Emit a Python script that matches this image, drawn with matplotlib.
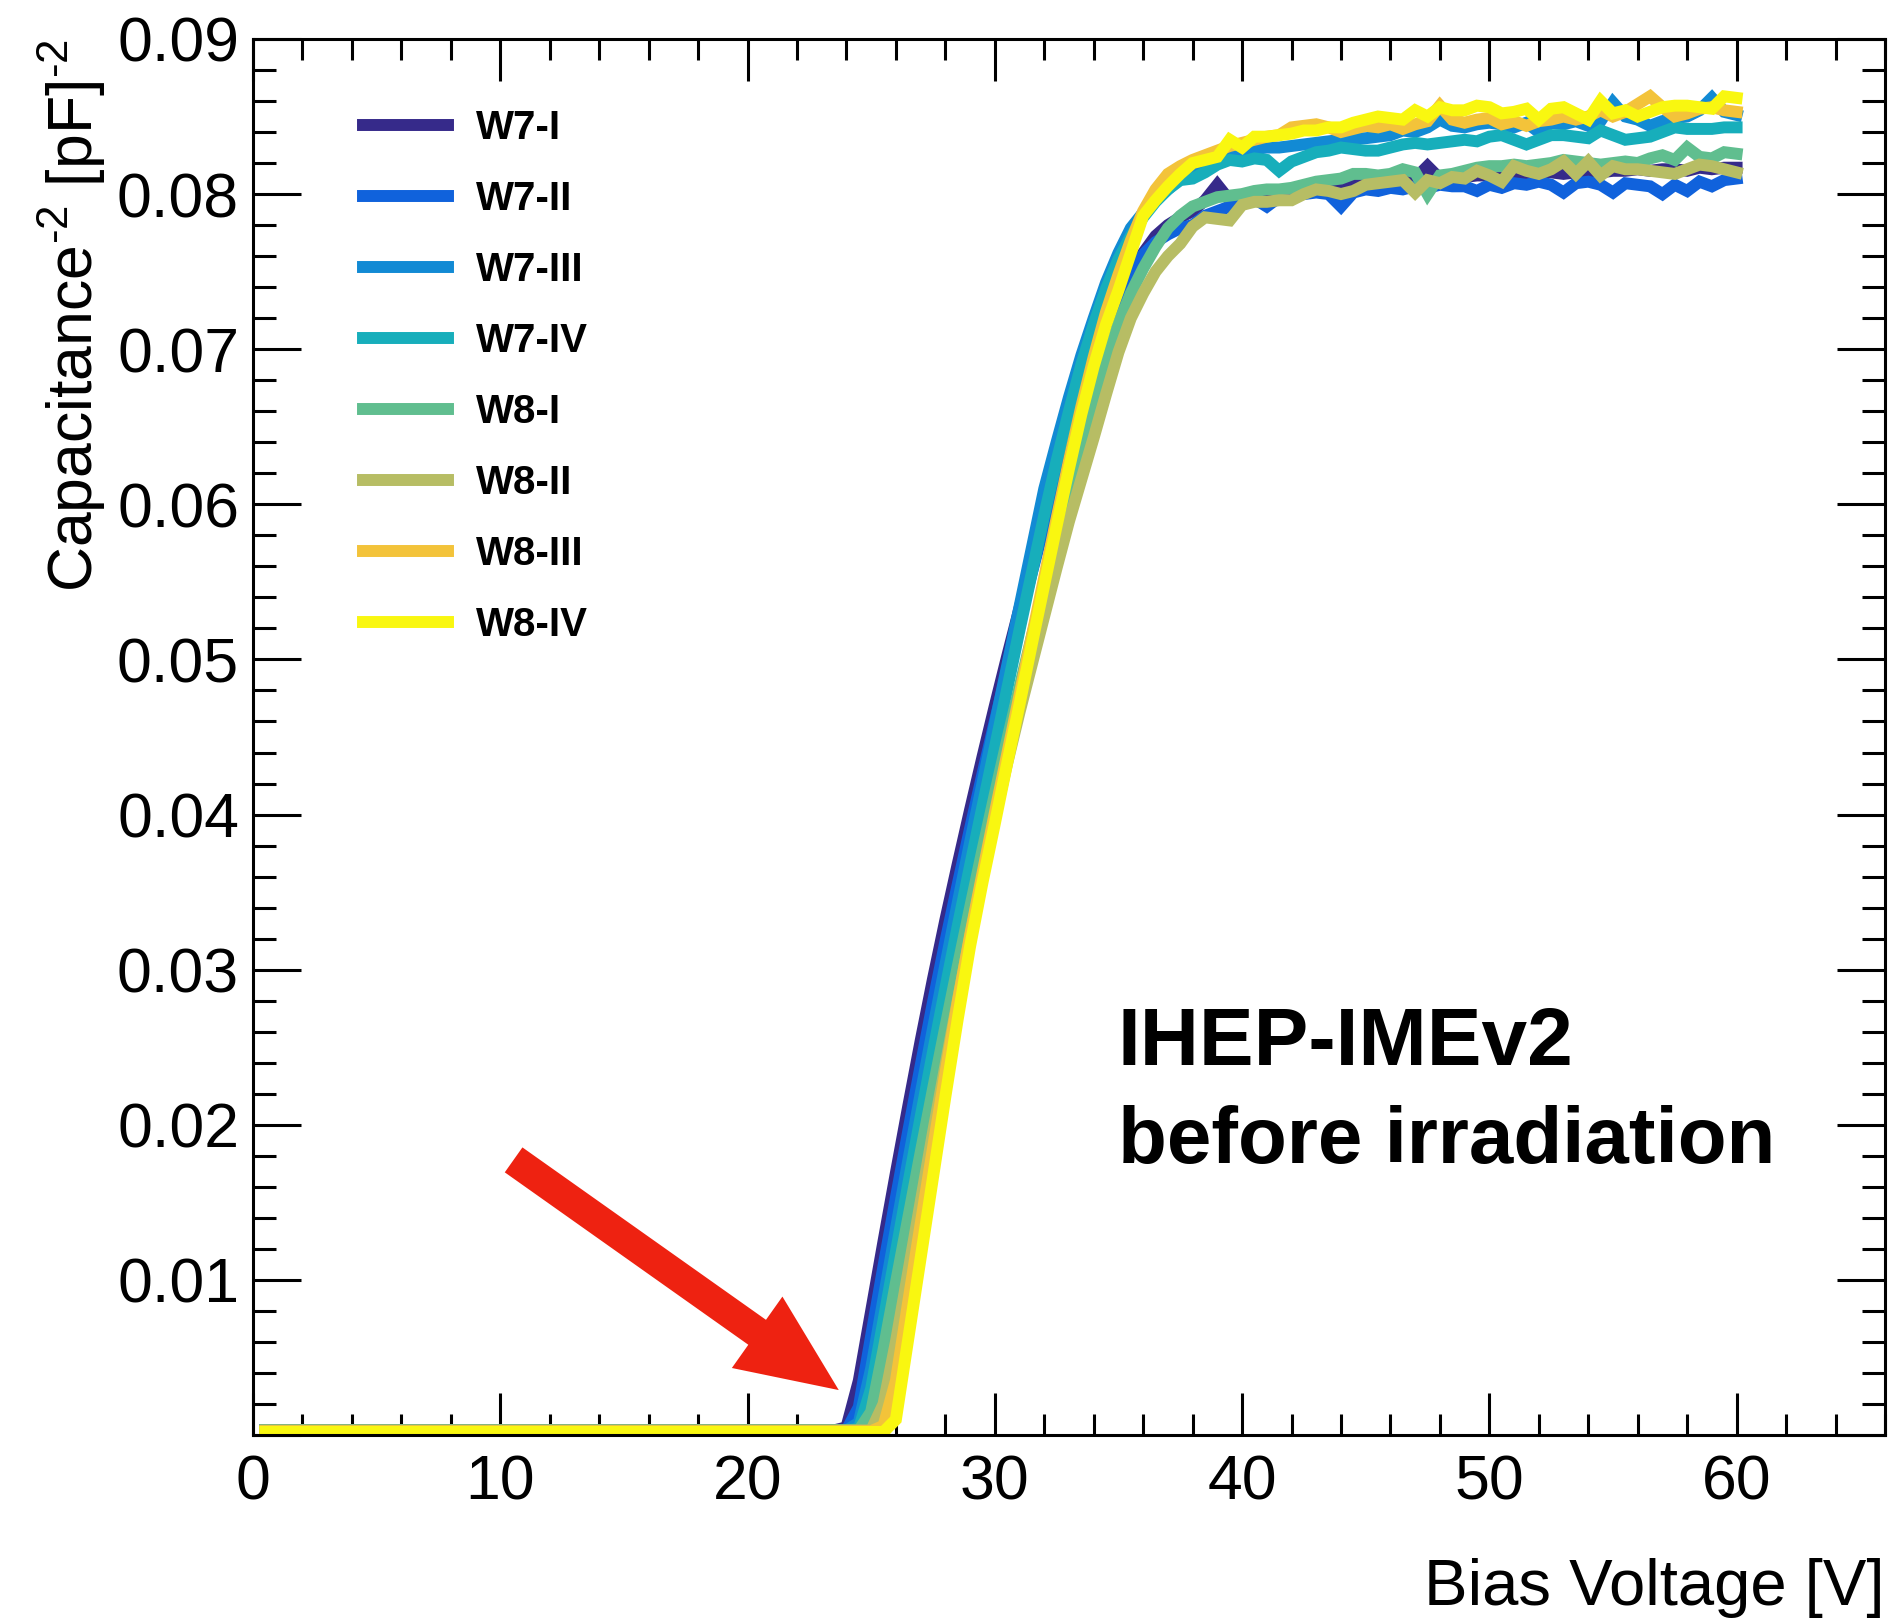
import numpy as np
import matplotlib.pyplot as plt
from matplotlib.ticker import MultipleLocator, FuncFormatter

plt.rcParams['font.family'] = 'Liberation Sans'
plt.rcParams['mathtext.fontset'] = 'custom'
plt.rcParams['mathtext.rm'] = 'Liberation Sans'
plt.rcParams['mathtext.it'] = 'Liberation Sans:italic'
plt.rcParams['mathtext.bf'] = 'Liberation Sans:bold'

# bias scan, 0.5 V steps
bias_voltage = np.arange(0.5, 60.01, 0.5)

labels = ['W7-I', 'W7-II', 'W7-III', 'W7-IV', 'W8-I', 'W8-II', 'W8-III', 'W8-IV']
colors = ['#362a8a', '#1062dc', '#128ad4', '#17aebb',
          '#60be8f', '#b7bd64', '#f3c33a', '#f9f710']

# 1/C^2 in units of 1e-3 pF^-2, one row per 5 V
w7_i = [
    0.3, 0.3, 0.3, 0.3, 0.3, 0.3, 0.3, 0.3, 0.3, 0.3,
    0.3, 0.3, 0.3, 0.3, 0.3, 0.3, 0.3, 0.3, 0.3, 0.3,
    0.3, 0.3, 0.3, 0.3, 0.3, 0.3, 0.3, 0.3, 0.3, 0.3,
    0.3, 0.3, 0.3, 0.3, 0.3, 0.3, 0.3, 0.3, 0.3, 0.3,
    0.3, 0.3, 0.3, 0.3, 0.3, 0.3, 0.3, 0.5, 3.5, 8.0,
    12.5, 16.9, 21.2, 25.4, 29.4, 33.2, 36.8, 40.3, 43.7, 47.0,
    50.2, 53.3, 56.3, 59.2, 62.0, 64.6, 67.0, 69.3, 71.4, 73.2,
    74.8, 76.2, 77.3, 78.0, 78.5, 78.9, 79.6, 80.6, 79.6, 79.9,
    80.0, 80.1, 80.2, 80.3, 80.4, 80.5, 80.5, 80.6, 80.7, 80.7,
    80.8, 80.8, 80.9, 81.0, 81.8, 81.0, 81.1, 81.1, 81.2, 81.2,
    81.2, 81.3, 81.3, 81.4, 81.4, 81.3, 81.4, 81.5, 81.4, 81.5,
    81.5, 81.6, 81.5, 81.6, 81.6, 81.5, 81.7, 81.6, 81.7, 81.7,
]
w7_ii = [
    0.3, 0.3, 0.3, 0.3, 0.3, 0.3, 0.3, 0.3, 0.3, 0.3,
    0.3, 0.3, 0.3, 0.3, 0.3, 0.3, 0.3, 0.3, 0.3, 0.3,
    0.3, 0.3, 0.3, 0.3, 0.3, 0.3, 0.3, 0.3, 0.3, 0.3,
    0.3, 0.3, 0.3, 0.3, 0.3, 0.3, 0.3, 0.3, 0.3, 0.3,
    0.3, 0.3, 0.3, 0.3, 0.3, 0.3, 0.3, 0.3, 1.8, 6.4,
    10.9, 15.3, 19.6, 23.8, 27.9, 31.8, 35.5, 39.1, 42.6, 46.0,
    49.3, 52.5, 55.6, 58.6, 61.5, 64.2, 66.8, 69.2, 71.4, 73.3,
    74.9, 76.1, 76.9, 77.4, 77.8, 78.0, 78.6, 78.9, 79.2, 79.4,
    79.7, 79.2, 79.8, 79.9, 80.0, 80.1, 80.0, 79.2, 80.1, 80.3,
    80.2, 80.4, 80.3, 80.5, 80.4, 80.6, 80.5, 80.5, 80.2, 80.6,
    80.4, 80.7, 80.6, 80.8, 80.6, 80.1, 80.7, 80.8, 80.6, 80.1,
    80.7, 80.6, 80.5, 80.0, 80.6, 80.2, 80.8, 80.5, 80.9, 81.0,
]
w7_iii = [
    0.3, 0.3, 0.3, 0.3, 0.3, 0.3, 0.3, 0.3, 0.3, 0.3,
    0.3, 0.3, 0.3, 0.3, 0.3, 0.3, 0.3, 0.3, 0.3, 0.3,
    0.3, 0.3, 0.3, 0.3, 0.3, 0.3, 0.3, 0.3, 0.3, 0.3,
    0.3, 0.3, 0.3, 0.3, 0.3, 0.3, 0.3, 0.3, 0.3, 0.3,
    0.3, 0.3, 0.3, 0.3, 0.3, 0.3, 0.3, 0.3, 0.8, 4.3,
    8.8, 13.3, 17.7, 22.0, 26.2, 30.3, 34.3, 38.2, 42.0, 45.8,
    49.6, 53.4, 57.2, 61.0, 64.0, 66.9, 69.6, 72.0, 74.3, 76.2,
    77.8, 78.8, 79.6, 80.3, 81.0, 81.7, 82.2, 82.4, 82.7, 82.8,
    82.9, 83.0, 83.0, 83.1, 83.2, 83.3, 83.4, 83.5, 83.6, 83.6,
    83.7, 83.8, 84.1, 84.0, 84.3, 84.8, 84.4, 84.3, 84.5, 84.6,
    84.5, 84.3, 84.6, 84.0, 84.6, 84.5, 84.7, 84.4, 84.7, 85.9,
    85.0, 84.8, 84.4, 84.7, 84.9, 85.0, 85.4, 86.2, 85.3, 85.1,
]
w7_iv = [
    0.3, 0.3, 0.3, 0.3, 0.3, 0.3, 0.3, 0.3, 0.3, 0.3,
    0.3, 0.3, 0.3, 0.3, 0.3, 0.3, 0.3, 0.3, 0.3, 0.3,
    0.3, 0.3, 0.3, 0.3, 0.3, 0.3, 0.3, 0.3, 0.3, 0.3,
    0.3, 0.3, 0.3, 0.3, 0.3, 0.3, 0.3, 0.3, 0.3, 0.3,
    0.3, 0.3, 0.3, 0.3, 0.3, 0.3, 0.3, 0.3, 0.4, 3.0,
    7.4, 11.8, 16.2, 20.5, 24.7, 28.8, 32.8, 36.7, 40.5, 44.3,
    48.1, 51.9, 55.6, 59.3, 62.8, 66.0, 69.0, 71.6, 73.9, 75.8,
    77.3, 78.5, 79.5, 80.3, 80.9, 81.0, 81.4, 81.9, 82.2, 82.1,
    82.3, 82.2, 81.5, 82.1, 82.4, 82.7, 82.8, 83.0, 82.9, 82.8,
    82.8, 83.0, 83.2, 83.3, 83.2, 83.3, 83.4, 83.5, 83.4, 83.7,
    83.8, 83.5, 83.2, 83.5, 83.8, 83.8, 83.7, 83.6, 84.1, 83.8,
    83.5, 83.6, 83.7, 84.0, 84.3, 84.2, 84.2, 84.2, 84.3, 84.3,
]
w8_i = [
    0.3, 0.3, 0.3, 0.3, 0.3, 0.3, 0.3, 0.3, 0.3, 0.3,
    0.3, 0.3, 0.3, 0.3, 0.3, 0.3, 0.3, 0.3, 0.3, 0.3,
    0.3, 0.3, 0.3, 0.3, 0.3, 0.3, 0.3, 0.3, 0.3, 0.3,
    0.3, 0.3, 0.3, 0.3, 0.3, 0.3, 0.3, 0.3, 0.3, 0.3,
    0.3, 0.3, 0.3, 0.3, 0.3, 0.3, 0.3, 0.3, 0.3, 1.5,
    5.5, 9.8, 14.0, 18.2, 22.3, 26.3, 30.2, 34.0, 37.7, 41.3,
    44.8, 48.2, 51.5, 54.7, 57.8, 60.8, 63.7, 66.5, 69.2, 71.6,
    73.6, 75.2, 76.6, 77.8, 78.6, 79.2, 79.5, 79.8, 79.9, 80.0,
    80.2, 80.3, 80.3, 80.4, 80.6, 80.8, 80.9, 81.0, 81.3, 81.3,
    81.2, 81.3, 81.6, 81.4, 80.0, 81.2, 81.3, 81.5, 81.7, 81.8,
    81.8, 81.9, 81.8, 81.9, 82.0, 82.2, 82.1, 82.0, 81.9, 82.0,
    82.1, 82.0, 82.3, 82.5, 82.2, 83.0, 82.4, 82.3, 82.7, 82.6,
]
w8_ii = [
    0.3, 0.3, 0.3, 0.3, 0.3, 0.3, 0.3, 0.3, 0.3, 0.3,
    0.3, 0.3, 0.3, 0.3, 0.3, 0.3, 0.3, 0.3, 0.3, 0.3,
    0.3, 0.3, 0.3, 0.3, 0.3, 0.3, 0.3, 0.3, 0.3, 0.3,
    0.3, 0.3, 0.3, 0.3, 0.3, 0.3, 0.3, 0.3, 0.3, 0.3,
    0.3, 0.3, 0.3, 0.3, 0.3, 0.3, 0.3, 0.3, 0.3, 0.3,
    2.0, 6.0, 10.5, 15.0, 19.5, 23.8, 28.0, 32.1, 36.0, 39.8,
    43.3, 46.6, 49.7, 52.8, 55.9, 58.9, 61.6, 64.3, 67.1, 69.8,
    72.0, 73.6, 75.0, 76.0, 76.8, 77.9, 78.5, 78.4, 78.3, 79.3,
    79.5, 79.5, 79.6, 79.6, 80.0, 80.3, 80.2, 80.0, 80.2, 80.6,
    80.7, 80.8, 80.9, 80.1, 80.9, 80.7, 81.1, 81.0, 81.5, 81.2,
    80.8, 81.8, 81.5, 81.3, 81.6, 82.1, 81.3, 82.1, 81.2, 81.8,
    81.6, 81.6, 81.5, 81.4, 81.3, 81.6, 81.9, 81.8, 81.6, 81.4,
]
w8_iii = [
    0.25, 0.25, 0.25, 0.25, 0.25, 0.25, 0.25, 0.25, 0.25, 0.25,
    0.25, 0.25, 0.25, 0.25, 0.25, 0.25, 0.25, 0.25, 0.25, 0.25,
    0.25, 0.25, 0.25, 0.25, 0.25, 0.25, 0.25, 0.25, 0.25, 0.25,
    0.25, 0.25, 0.25, 0.25, 0.25, 0.25, 0.25, 0.25, 0.25, 0.25,
    0.25, 0.25, 0.25, 0.25, 0.25, 0.25, 0.25, 0.25, 0.25, 0.25,
    0.6, 3.5, 8.6, 13.6, 18.5, 23.3, 27.9, 32.2, 36.2, 40.1,
    43.9, 47.7, 51.5, 55.3, 59.1, 62.8, 66.3, 69.5, 72.4, 74.8,
    77.0, 78.9, 80.3, 81.3, 81.8, 82.2, 82.5, 82.8, 83.1, 83.3,
    83.5, 83.7, 83.8, 84.3, 84.4, 84.5, 84.3, 84.0, 84.2, 84.4,
    84.3, 84.5, 84.2, 84.5, 84.7, 85.7, 84.8, 84.6, 84.8, 84.9,
    84.5, 84.7, 84.4, 84.7, 84.8, 85.0, 84.8, 85.0, 85.4, 85.0,
    85.3, 85.8, 86.3, 85.6, 85.0, 85.2, 85.5, 85.6, 85.4, 85.3,
]
w8_iv = [
    0.2, 0.2, 0.2, 0.2, 0.2, 0.2, 0.2, 0.2, 0.2, 0.2,
    0.2, 0.2, 0.2, 0.2, 0.2, 0.2, 0.2, 0.2, 0.2, 0.2,
    0.2, 0.2, 0.2, 0.2, 0.2, 0.2, 0.2, 0.2, 0.2, 0.2,
    0.2, 0.2, 0.2, 0.2, 0.2, 0.2, 0.2, 0.2, 0.2, 0.2,
    0.2, 0.2, 0.2, 0.2, 0.2, 0.2, 0.2, 0.2, 0.2, 0.2,
    0.2, 1.0, 6.2, 11.4, 16.6, 21.8, 26.8, 31.5, 35.6, 39.4,
    43.3, 47.1, 51.0, 54.8, 58.6, 62.3, 65.8, 68.9, 71.6, 73.8,
    76.2, 78.6, 79.6, 80.5, 81.3, 82.0, 82.2, 82.4, 83.5, 83.0,
    83.7, 83.7, 83.8, 83.9, 84.1, 84.1, 84.3, 84.3, 84.6, 84.8,
    85.0, 84.9, 84.8, 85.4, 85.0, 85.6, 85.4, 85.4, 85.7, 85.6,
    85.2, 85.3, 85.5, 84.8, 85.5, 85.6, 85.2, 84.8, 86.0, 85.2,
    85.4, 85.0, 85.3, 85.6, 85.7, 85.7, 85.6, 85.5, 86.3, 86.2,
]
series = [w7_i, w7_ii, w7_iii, w7_iv, w8_i, w8_ii, w8_iii, w8_iv]

fig = plt.figure(figsize=(18.95, 16.23), dpi=100)
ax = fig.add_axes([0.1335, 0.1158, 0.8612, 0.8602])

for vals, lab, col in zip(series, labels, colors):
    ax.plot(bias_voltage, np.array(vals) * 1e-3, color=col, lw=8.6,
            label=lab, solid_joinstyle='miter')

ax.set_xlim(0, 66)
ax.set_ylim(0, 0.09)

ax.xaxis.set_major_locator(MultipleLocator(10))
ax.xaxis.set_minor_locator(MultipleLocator(2))
ax.yaxis.set_major_locator(MultipleLocator(0.01))
ax.yaxis.set_minor_locator(MultipleLocator(0.002))
ax.yaxis.set_major_formatter(FuncFormatter(lambda v, p: '' if abs(v) < 1e-9 else f'{v:.2f}'))

for sp in ax.spines.values():
    sp.set_linewidth(2.2)
ax.tick_params(axis='both', which='both', direction='in', top=True, right=True,
               width=2.2, labelsize=45)
ax.tick_params(axis='x', which='major', length=30, pad=13)
ax.tick_params(axis='x', which='minor', length=15)
ax.tick_params(axis='y', which='major', length=34.5, pad=10)
ax.tick_params(axis='y', which='minor', length=16.5)

ax.set_xlabel('Bias Voltage [V]', fontsize=47, loc='right')
ax.xaxis.set_label_coords(1.0, -0.088)
ax.set_ylabel(r'Capacitance$^{\text{-2}}$ [pF]$^{\text{-2}}$', fontsize=45, loc='top')
ax.yaxis.set_label_coords(-0.089, 1.0)

ax.legend(loc='upper left', bbox_to_anchor=(0.0672, 0.950), frameon=False,
          prop=dict(weight='bold', size=29), handlelength=2.12,
          handletextpad=0.70, labelspacing=0.82, borderpad=0, borderaxespad=0)

ax.text(0.530, 0.265, 'IHEP-IMEv2', transform=ax.transAxes, fontsize=59,
        fontweight='bold', va='baseline')
ax.text(0.530, 0.1948, 'before irradiation', transform=ax.transAxes, fontsize=57.5,
        fontweight='bold', va='baseline')

# arrow pointing at the depletion onset
ax.annotate('', xy=(23.69, 0.0029), xytext=(10.54, 0.01774),
            arrowprops=dict(arrowstyle='simple,head_length=72,head_width=63,tail_width=22',
                            color='#ee2211', lw=0, shrinkA=0, shrinkB=0,
                            mutation_scale=1))

fig.savefig('out.png', dpi=100)
